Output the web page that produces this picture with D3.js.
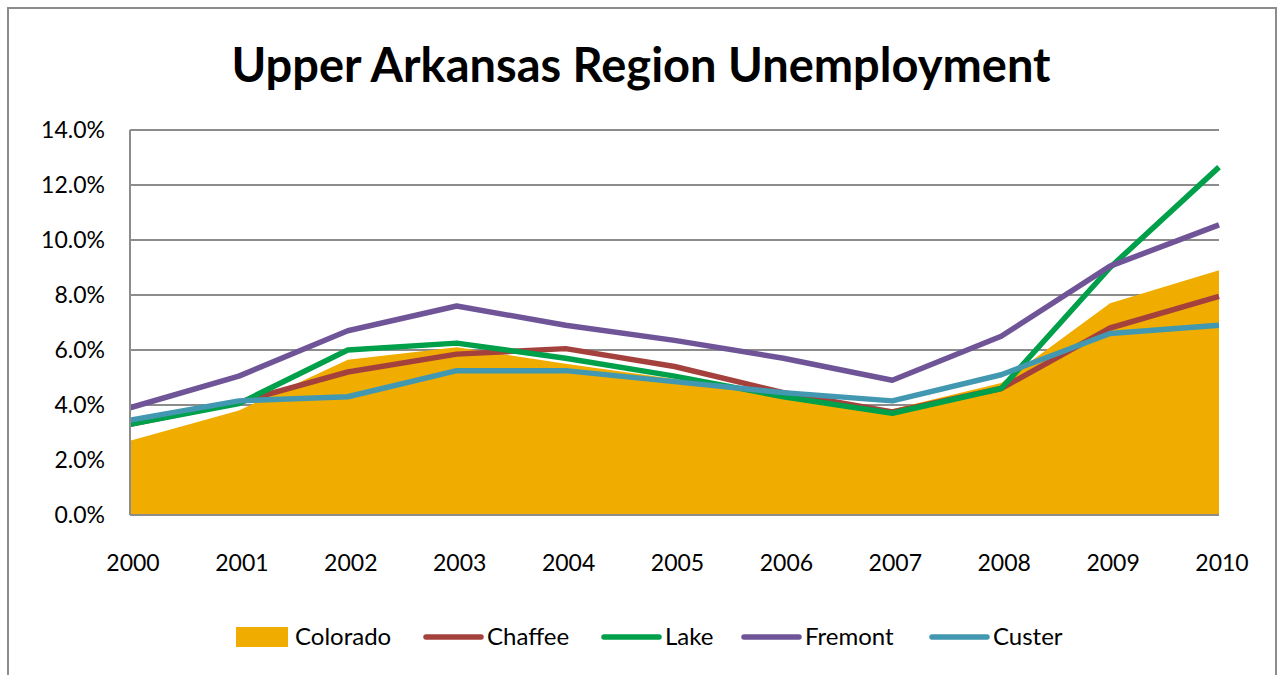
<html>
<head>
<style>
body { margin: 0; background: #fff; }
text { font-family: Lato, "Open Sans", sans-serif; fill: #000; }
.grid line { stroke: #8c8c8c; stroke-width: 2; }
</style>
</head>
<body>
<svg height="675" width="1278" id="container"></svg>
<script src="https://cdn.jsdelivr.net/npm/d3@7"></script>
<script>
// data (percent)
var years = ["2000","2001","2002","2003","2004","2005","2006","2007","2008","2009","2010"];
var colorado = [2.7, 3.8, 5.65, 6.1, 5.5, 4.95, 4.35, 3.85, 4.8, 7.7, 8.9];
var chaffee  = [3.3, 4.1, 5.2, 5.85, 6.05, 5.4, 4.45, 3.75, 4.6, 6.8, 7.95];
var lake     = [3.3, 4.05, 6.0, 6.25, 5.7, 5.05, 4.3, 3.7, 4.6, 9.0, 12.65];
var fremont  = [3.9, 5.05, 6.7, 7.6, 6.9, 6.35, 5.7, 4.9, 6.5, 9.05, 10.55];
var custer   = [3.45, 4.15, 4.3, 5.25, 5.25, 4.85, 4.45, 4.15, 5.1, 6.6, 6.9];
var yTicks = [0, 2, 4, 6, 8, 10, 12, 14];

var lines = [
  {name:"Chaffee", values:chaffee, color:"#a5413d"},
  {name:"Lake", values:lake, color:"#00a04a"},
  {name:"Fremont", values:fremont, color:"#6f5597"},
  {name:"Custer", values:custer, color:"#4298b1"}
];

var svg = d3.select("#container");
var plotL = 130, plotR = 1219, plotT = 130, plotB = 515;

// outer chart frame
svg.append("rect").attr("x",8).attr("y",8).attr("width",1268).attr("height",700)
   .attr("fill","#fff").attr("stroke","#8c8c8c").attr("stroke-width",2);

var x = d3.scalePoint().domain(years).range([plotL, plotR]);
var y = d3.scaleLinear().domain([0, 14]).range([plotB, plotT]);

// gridlines
svg.append("g").attr("class","grid").selectAll("line")
   .data(yTicks).enter().append("line")
   .attr("x1",plotL).attr("x2",plotR)
   .attr("y1",d=>y(d)).attr("y2",d=>y(d));

// Colorado area
var area = d3.area().x((d,i)=>x(years[i])).y0(y(0)).y1(d=>y(d));
svg.append("path").datum(colorado).attr("d",area).attr("fill","#f0ad00");

// county lines
var line = d3.line().x((d,i)=>x(years[i])).y(d=>y(d));
svg.selectAll(".series").data(lines).enter().append("path")
   .attr("class","series")
   .attr("d",d=>line(d.values))
   .attr("fill","none")
   .attr("stroke",d=>d.color)
   .attr("stroke-width",5.5)
   .attr("stroke-linejoin","round");

// axis lines
svg.append("line").attr("x1",plotL).attr("x2",plotL).attr("y1",plotT).attr("y2",plotB)
   .attr("stroke","#8c8c8c").attr("stroke-width",2);
svg.append("line").attr("x1",plotL).attr("x2",plotR).attr("y1",plotB).attr("y2",plotB)
   .attr("stroke","#8c8c8c").attr("stroke-width",2);

// y labels
svg.append("g").selectAll("text").data(yTicks).enter().append("text")
   .attr("x",105).attr("y",d=>y(d)).attr("dy","0.35em")
   .attr("text-anchor","end").style("font-size","23px")
   .text(d=>d3.format(".1f")(d)+"%");

// x labels
svg.append("g").selectAll("text").data(years).enter().append("text")
   .attr("x",d=>x(d)+3).attr("y",563).attr("dy","0.35em")
   .attr("text-anchor","middle").style("font-size","23px")
   .text(d=>d);

// title
svg.append("text").attr("x",641).attr("y",82).attr("text-anchor","middle")
   .style("font-size","47px").style("font-weight","bold")
   .text("Upper Arkansas Region Unemployment");

// legend
var ly = 637;
svg.append("rect").attr("x",236).attr("y",627).attr("width",52).attr("height",20).attr("fill","#f0ad00");
svg.append("text").attr("x",295).attr("y",ly).attr("dy","0.35em").style("font-size","24px").text("Colorado");
var legX = [426, 604, 744, 932];
lines.forEach(function(d,i){
  svg.append("line").attr("x1",legX[i]).attr("x2",legX[i]+55).attr("y1",ly).attr("y2",ly)
     .attr("stroke",d.color).attr("stroke-width",5.5).attr("stroke-linecap","round");
  svg.append("text").attr("x",legX[i]+61).attr("y",ly).attr("dy","0.35em")
     .style("font-size","24px").text(d.name);
});
</script>
</body>
</html>
